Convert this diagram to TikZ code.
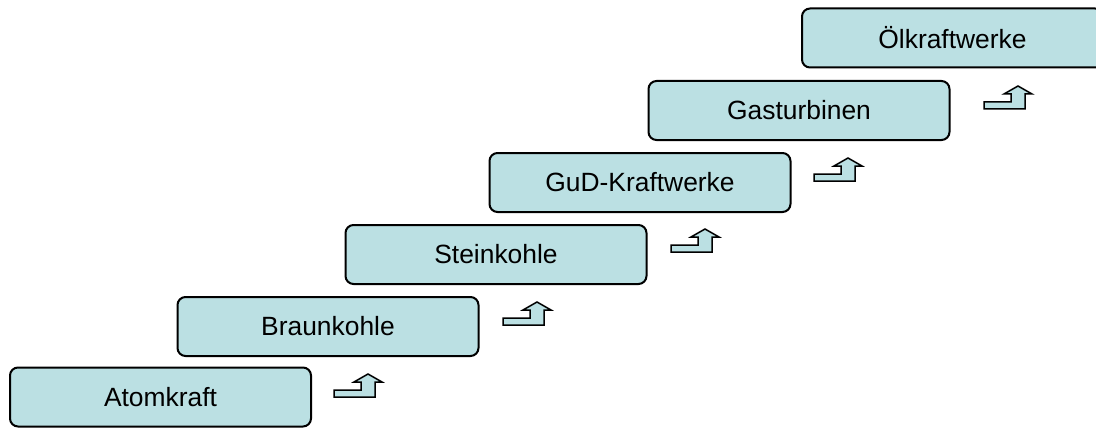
\documentclass[tikz,border=0pt]{standalone}
\usepackage{fontspec}
\setmainfont{Liberation Sans}
\definecolor{boxfill}{RGB}{187,224,227}
\tikzset{
  stepbox/.style={draw=black, fill=boxfill, line width=2pt, rounded corners=8pt,
    minimum width=301pt, minimum height=59pt, inner sep=0pt,
    font=\fontsize{26.4}{30}\selectfont, text=black},
  steparrow/.pic={
    \draw[line width=1.5pt, fill=boxfill, line join=miter]
      (-34,23) -- (7,23) -- (7,8) -- (14,8) -- (0,0) -- (-14,8) -- (-7,8)
      -- (-7,16) -- (-34,16) -- cycle;
  }
}
\begin{document}
\begin{tikzpicture}[x=1pt, y=-1pt]
\clip (0,0) rectangle (1096,428);
\useasboundingbox (0,0) rectangle (1096,428);
\node[stepbox] (b1) at (160.5,397) {Atomkraft};
\node[stepbox] (b2) at (328,326.5) {Braunkohle};
\node[stepbox] (b3) at (496,254.5) {Steinkohle};
\node[stepbox] (b4) at (640,182.5) {GuD-Kraftwerke};
\node[stepbox] (b5) at (799,110.5) {Gasturbinen};
\node[stepbox] (b6) at (952.5,38) {Ölkraftwerke};
\pic at (368,374) {steparrow};
\pic at (537,302) {steparrow};
\pic at (705,229) {steparrow};
\pic at (848,158) {steparrow};
\pic at (1018,86) {steparrow};
\end{tikzpicture}
\end{document}
